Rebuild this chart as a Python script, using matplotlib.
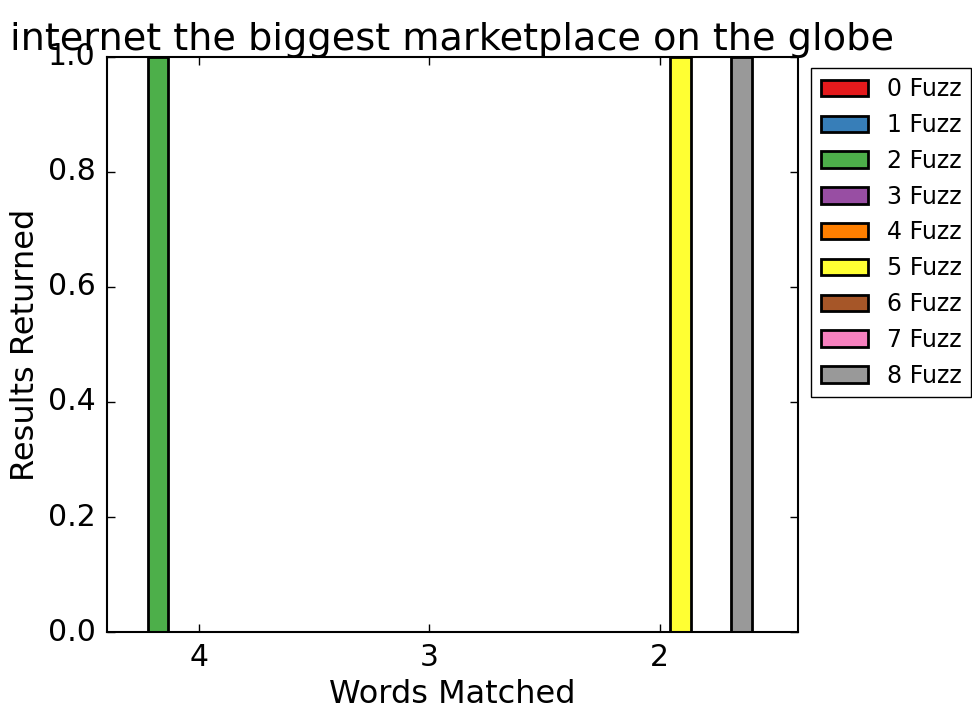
import numpy as np
import matplotlib
matplotlib.use("Agg")
import matplotlib.pyplot as plt

plt.style.use("classic")

words = [4, 3, 2]
fuzz_levels = list(range(9))
# results returned per fuzz level, one value per words-matched group
results = {
    0: [0, 0, 0],
    1: [0, 0, 0],
    2: [1, 0, 0],
    3: [0, 0, 0],
    4: [0, 0, 0],
    5: [0, 0, 1],
    6: [0, 0, 0],
    7: [0, 0, 0],
    8: [0, 0, 1],
}
colors = ["#e41a1c", "#377eb8", "#4daf4a", "#984ea3", "#ff7f00",
          "#ffff33", "#a65628", "#f781bf", "#999999"]

fig = plt.figure(figsize=(9.72, 7.11), dpi=100)
ax = fig.add_axes([0.110, 0.111, 0.711, 0.809])

width = 0.8 / len(fuzz_levels)
x = np.array(words, dtype=float)
for f in fuzz_levels:
    offset = 0.4 - (f + 0.5) * width
    ax.bar(x + offset, results[f], width, color=colors[f], edgecolor="black",
           linewidth=2, align="center", label=f"{f} Fuzz")

ax.set_xlim(4.4, 1.4)
ax.set_ylim(0, 1)
ax.set_xticks(words)
ax.tick_params(labelsize=21.5, length=6, width=1, pad=8)
for s in ax.spines.values():
    s.set_linewidth(1.5)

ax.set_title("internet the biggest marketplace on the globe", fontsize=27.5)
ax.set_xlabel("Words Matched", fontsize=23)
ax.set_ylabel("Results Returned", fontsize=23)

ax.legend(loc="upper left", bbox_to_anchor=(1.019, 0.981), fontsize=17,
          borderaxespad=0, handlelength=2.0)

fig.savefig("out.png", dpi=100)
